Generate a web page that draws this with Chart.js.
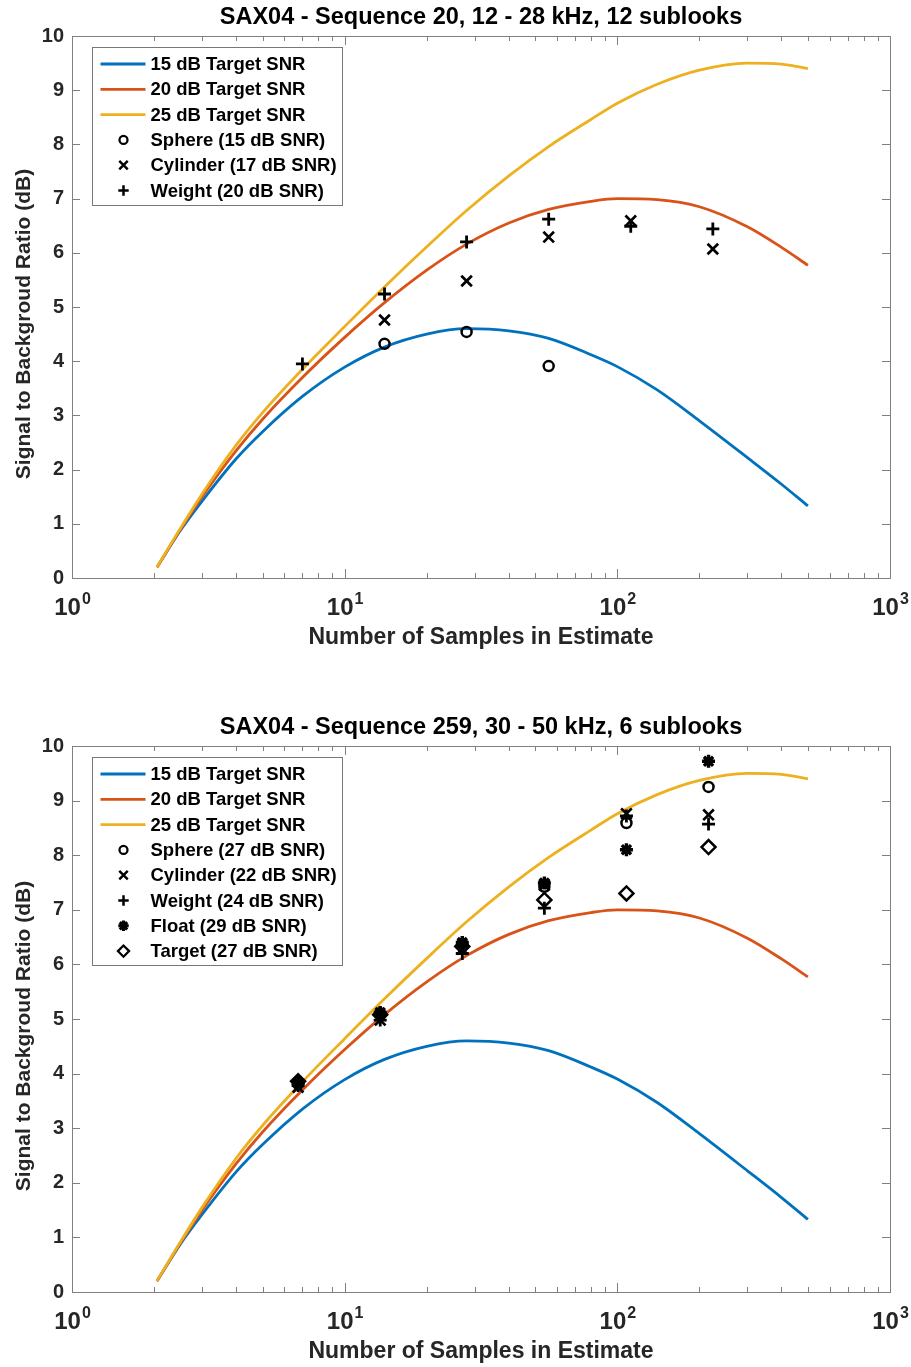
<!DOCTYPE html>
<html>
<head>
<meta charset="utf-8">
<script src="https://cdn.jsdelivr.net/npm/chart.js@4.4.1/dist/chart.umd.min.js"></script>
<style>
  body { margin: 0; background: #fff; width: 911px; height: 1367px; overflow: hidden; }
  canvas { display: block; }
</style>
</head>
<body>
<canvas id="chartTop" width="911" height="683"></canvas>
<canvas id="chartBottom" width="911" height="684"></canvas>
<script>
// courbes théoriques (nombre d'échantillons -> SBR en dB)
const curveSamples = [2.05, 2.5, 3, 4, 5, 7, 10, 14, 20, 28, 40, 56, 80, 100, 140, 200, 300, 400, 500];
const snr15 = [0.2, 0.88, 1.42, 2.2, 2.7, 3.35, 3.89, 4.26, 4.5, 4.6, 4.56, 4.42, 4.12, 3.9, 3.47, 2.9, 2.22, 1.73, 1.33];
const snr20 = [0.2, 0.9, 1.5, 2.35, 2.93, 3.7, 4.44, 5.08, 5.68, 6.16, 6.55, 6.8, 6.95, 7.0, 6.98, 6.85, 6.48, 6.1, 5.77];
const snr25 = [0.2, 0.92, 1.55, 2.45, 3.05, 3.85, 4.64, 5.37, 6.11, 6.78, 7.42, 7.96, 8.46, 8.76, 9.11, 9.37, 9.5, 9.48, 9.4];

// séquence 20
const seq20Samples = [7, 14, 28, 56, 112, 224];
const seq20Sphere = [null, 4.32, 4.54, 3.91, null, null];
const seq20Cylinder = [null, 4.76, 5.48, 6.29, 6.59, 6.07];
const seq20Weight = [3.95, 5.24, 6.2, 6.62, 6.49, 6.44];

// séquence 259
const seq259Samples = [6.75, 13.5, 27, 54, 108, 216];
const seq259Sphere = [3.84, 5.1, 6.38, 7.42, 8.59, 9.25];
const seq259Cylinder = [3.75, 4.98, 6.28, 7.45, 8.76, 8.74];
const seq259Weight = [3.78, 4.98, 6.2, 7.03, 8.72, 8.57];
const seq259Float = [3.82, 5.12, 6.4, 7.49, 8.1, 9.72];
const seq259Target = [3.86, 5.08, 6.33, 7.18, 7.3, 8.15];

// graduations de l'axe x (log)
const xTickValues = [1, 2, 3, 4, 5, 6, 7, 8, 9, 10, 20, 30, 40, 50, 60, 70, 80, 90, 100, 200, 300, 400, 500, 600, 700, 800, 900, 1000];
const xDecades = { 1: '0', 10: '1', 100: '2', 1000: '3' };

const FONT = '"Liberation Sans", Arial, sans-serif';
Chart.defaults.font.family = FONT;

const markerStyles = {
  sphere:   { pointStyle: 'circle',   radius: 5,   width: 2.5, fill: 'rgba(0,0,0,0)' },
  cylinder: { pointStyle: 'crossRot', radius: 7.5, width: 2.7, fill: 'rgba(0,0,0,0)' },
  weight:   { pointStyle: 'cross',    radius: 6.5, width: 2.8, fill: 'rgba(0,0,0,0)' },
  float:    { pointStyle: 'star',     radius: 6.5, width: 3.4, fill: '#000' },
  target:   { pointStyle: 'rectRot',  radius: 7,   width: 2.5, fill: 'rgba(0,0,0,0)' }
};

function toPoints(xs, ys) {
  return xs.map((x, i) => ({ x: x, y: ys[i] }));
}

function curveDataset(label, values, color, order) {
  return {
    label: label,
    data: toPoints(curveSamples, values),
    borderColor: color,
    borderWidth: 2.8,
    pointRadius: 0,
    cubicInterpolationMode: 'monotone',
    showLine: true,
    fill: false,
    order: order
  };
}

function markerDataset(label, kind, xs, ys) {
  const st = markerStyles[kind];
  return {
    label: label,
    kind: kind,
    data: toPoints(xs, ys),
    showLine: false,
    pointStyle: st.pointStyle,
    pointRadius: st.radius,
    pointBorderWidth: st.width,
    pointBorderColor: '#000',
    pointBackgroundColor: st.fill,
    order: 0
  };
}

// axes façon matlab : cadre, graduations vers l'intérieur, labels 10^n, titre y, légende
const matlabAxes = {
  id: 'matlabAxes',
  afterDraw(chart) {
    const ctx = chart.ctx;
    const a = chart.chartArea;
    const xs = chart.scales.x;
    const ys = chart.scales.y;
    ctx.save();
    ctx.strokeStyle = '#808080';
    ctx.lineWidth = 1;
    ctx.strokeRect(Math.round(a.left) + 0.5, Math.round(a.top) + 0.5, Math.round(a.right - a.left), Math.round(a.bottom - a.top));

    ctx.beginPath();
    xTickValues.forEach(v => {
      const px = Math.round(xs.getPixelForValue(v)) + 0.5;
      const len = xDecades[v] ? 9 : 5;
      ctx.moveTo(px, a.bottom); ctx.lineTo(px, a.bottom - len);
      ctx.moveTo(px, a.top); ctx.lineTo(px, a.top + len);
    });
    for (let v = 1; v < 10; v++) {
      const py = Math.round(ys.getPixelForValue(v)) + 0.5;
      ctx.moveTo(a.left, py); ctx.lineTo(a.left + 8, py);
      ctx.moveTo(a.right, py); ctx.lineTo(a.right - 8, py);
    }
    ctx.stroke();

    // labels 10^n
    ctx.fillStyle = '#262626';
    ctx.textBaseline = 'alphabetic';
    ctx.textAlign = 'left';
    Object.keys(xDecades).forEach(k => {
      const px = xs.getPixelForValue(Number(k));
      ctx.font = 'bold 24px ' + FONT;
      const w1 = ctx.measureText('10').width;
      ctx.font = 'bold 16px ' + FONT;
      const w2 = ctx.measureText(xDecades[k]).width;
      const x0 = px - (w1 + w2) / 2;
      const base = a.bottom + 37;
      ctx.font = 'bold 24px ' + FONT;
      ctx.fillText('10', x0, base);
      ctx.font = 'bold 16px ' + FONT;
      ctx.fillText(xDecades[k], x0 + w1 + 1, base - 11);
    });

    // titre de l'axe y (un peu décalé vers le bas comme l'original)
    ctx.save();
    ctx.translate(24, (a.top + a.bottom) / 2 + 17);
    ctx.rotate(-Math.PI / 2);
    ctx.textAlign = 'center';
    ctx.textBaseline = 'middle';
    ctx.font = 'bold 21px ' + FONT;
    ctx.fillText('Signal to Backgroud Ratio (dB)', 0, 0);
    ctx.restore();

    // légende
    const ds = chart.data.datasets;
    const rowH = 25.3;
    ctx.font = 'bold 18.5px ' + FONT;
    let maxW = 0;
    ds.forEach(d => { maxW = Math.max(maxW, ctx.measureText(d.label).width); });
    const bx = Math.round(a.left + 20) + 0.5;
    const by = Math.round(a.top + 11) + 0.5;
    const bw = Math.round(58 + maxW + 6);
    const bh = Math.round(16 + rowH * (ds.length - 1) + 15);
    ctx.fillStyle = '#fff';
    ctx.fillRect(bx, by, bw, bh);
    ctx.strokeStyle = '#777';
    ctx.lineWidth = 1;
    ctx.strokeRect(bx, by, bw, bh);

    const legendOrder = ds.slice().sort((p, q) => (p.legendIndex - q.legendIndex));
    legendOrder.forEach((d, i) => {
      const cy = by + 16.5 + i * rowH;
      if (d.showLine) {
        ctx.strokeStyle = d.borderColor;
        ctx.lineWidth = 2.8;
        ctx.beginPath();
        ctx.moveTo(bx + 8, cy);
        ctx.lineTo(bx + 53, cy);
        ctx.stroke();
      } else {
        const st = markerStyles[d.kind];
        ctx.strokeStyle = '#000';
        ctx.fillStyle = st.fill;
        ctx.lineWidth = st.width * 0.9;
        Chart.helpers.drawPoint(ctx, { pointStyle: st.pointStyle, radius: st.radius * 0.8, rotation: 0, borderWidth: st.width * 0.9 }, bx + 31, cy);
      }
      ctx.fillStyle = '#000';
      ctx.font = 'bold 18.5px ' + FONT;
      ctx.textBaseline = 'middle';
      ctx.fillText(d.label, bx + 58, cy + 1);
    });
    ctx.restore();
  }
};

function makeChart(canvasId, title, markers, padBottom, titlePadTop) {
  const datasets = [
    curveDataset('15 dB Target SNR', snr15, '#0072BD', 3),
    curveDataset('20 dB Target SNR', snr20, '#D95319', 2),
    curveDataset('25 dB Target SNR', snr25, '#EDB120', 1)
  ].concat(markers);
  datasets.forEach((d, i) => { d.legendIndex = i; });

  return new Chart(document.getElementById(canvasId), {
    type: 'scatter',
    data: { datasets: datasets },
    options: {
      responsive: false,
      animation: false,
      devicePixelRatio: 1,
      layout: { padding: { top: 0, right: 21, bottom: padBottom, left: 0 } },
      plugins: {
        legend: { display: false },
        tooltip: { enabled: false },
        title: {
          display: true,
          text: title,
          color: '#000',
          fullSize: false,
          font: { size: 23.5, weight: 'bold' },
          padding: { top: titlePadTop, bottom: 4.8 }
        }
      },
      scales: {
        x: {
          type: 'logarithmic',
          min: 1,
          max: 1000,
          grid: { display: false, drawTicks: false },
          border: { display: false },
          ticks: { display: false },
          afterBuildTicks: s => { s.ticks = xTickValues.map(v => ({ value: v })); },
          afterFit: s => { s.height = 75; },
          title: {
            display: true,
            text: 'Number of Samples in Estimate',
            color: '#262626',
            font: { size: 23, weight: 'bold' },
            padding: { top: 0, bottom: 2 }
          }
        },
        y: {
          min: 0,
          max: 10,
          grid: { display: false, drawTicks: false },
          border: { display: false },
          ticks: { stepSize: 1, color: '#262626', padding: 8, font: { size: 20, weight: 'bold' } },
          afterFit: s => { s.width = 72; },
          title: { display: false }
        }
      }
    },
    plugins: [matlabAxes]
  });
}

makeChart('chartTop', 'SAX04 - Sequence 20, 12 - 28 kHz, 12 sublooks', [
  markerDataset('Sphere (15 dB SNR)', 'sphere', seq20Samples, seq20Sphere),
  markerDataset('Cylinder (17 dB SNR)', 'cylinder', seq20Samples, seq20Cylinder),
  markerDataset('Weight (20 dB SNR)', 'weight', seq20Samples, seq20Weight)
], 30, 3);

makeChart('chartBottom', 'SAX04 - Sequence 259, 30 - 50 kHz, 6 sublooks', [
  markerDataset('Sphere (27 dB SNR)', 'sphere', seq259Samples, seq259Sphere),
  markerDataset('Cylinder (22 dB SNR)', 'cylinder', seq259Samples, seq259Cylinder),
  markerDataset('Weight (24 dB SNR)', 'weight', seq259Samples, seq259Weight),
  markerDataset('Float (29 dB SNR)', 'float', seq259Samples, seq259Float),
  markerDataset('Target (27 dB SNR)', 'target', seq259Samples, seq259Target)
], 0, 30);
</script>
</body>
</html>
